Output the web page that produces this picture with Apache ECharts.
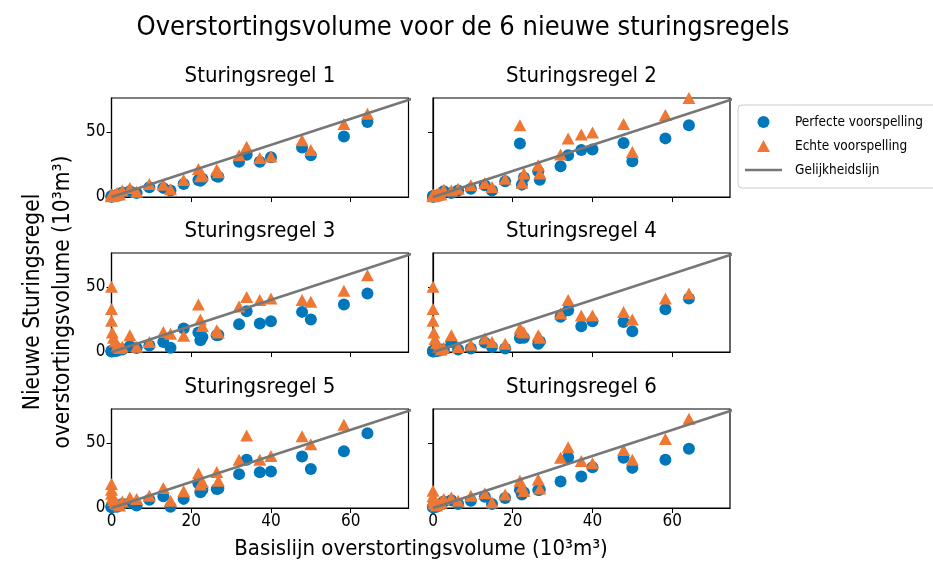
<!DOCTYPE html>
<html>
<head>
<meta charset="utf-8">
<script src="https://cdn.jsdelivr.net/npm/echarts@6/dist/echarts.min.js"></script>
<style>html,body{margin:0;padding:0;background:#fff}#c{width:933px;height:562px}</style>
</head>
<body>
<div id="c"></div>
<script>
// Baseline overflow volume (x), shared by all panels
const BASELINE = [0, 0, 0, 0.2, 0.5, 0.9, 1.4, 2.0, 2.7, 4.6, 6.3, 9.5, 13.0, 14.8, 18.1, 21.8, 22.3, 22.8, 26.4, 26.8, 32.0, 33.9, 37.2, 40.0, 47.8, 50.0, 58.3, 64.2];

// Perfecte voorspelling (blue) per rule
const PERFECT_1 = [0.5, 0.3, 0.2, 1, 0.5, 1, 1.5, 1.5, 3.5, 4.5, 3, 7.5, 7, 5, 10, 13, 12.5, 14, 16, 15.5, 27, 32.5, 27, 30.5, 38, 32, 46.5, 57.5];
const PERFECT_2 = [0.5, 0.3, 0.2, 1, 0.5, 1, 1.5, 1.5, 4.4, 3, 5, 6.4, 9, 5, 12, 41, 9.5, 15, 19.7, 13.3, 23.6, 32, 36, 36.4, 41.5, 27.4, 45, 55];
const PERFECT_3 = [1, 0.5, 0.3, 1, 0.5, 1, 1, 2, 2, 4.4, 3, 5, 7.7, 3.3, 18, 15, 9, 11.5, 12.8, 13, 21.3, 31.3, 21.8, 23.6, 30.8, 24.9, 36.4, 44.9];
const PERFECT_4 = [0.5, 0.3, 1, 1, 0.5, 1, 1, 2, 2, 7.7, 2, 2.6, 7.2, 3.8, 2.6, 10.8, 12, 11, 6.4, 8, 27, 32, 19.7, 23.6, 23, 16, 32.8, 41];
const PERFECT_5 = [1, 0.5, 1, 2, 1, 2, 1, 2, 3, 4, 2, 6.4, 9, 1, 7, 19, 12, 14, 14.6, 15, 26, 37, 27.4, 28, 39.5, 30, 43.6, 57.4];
const PERFECT_6 = [1, 0.5, 1, 1, 1, 1, 2, 3, 5, 6, 3, 5.6, 8.7, 3, 7.7, 14, 10.3, 12, 13.8, 14, 20.3, 39, 24.1, 31.3, 38.5, 30.8, 37, 45.4];

// Echte voorspelling (orange) per rule
const REAL_1 = [2, 1, 0.5, 1.5, 1, 2, 3, 2, 5, 7, 4, 10, 9.5, 6, 13, 21.5, 16, 17, 21, 19, 32, 38.5, 30, 31, 43.5, 36, 56, 64];
const REAL_2 = [1, 0.5, 2, 1.5, 1, 2, 3, 2, 5.6, 5, 6.4, 9, 10.8, 7.7, 14, 55, 11, 18, 24.4, 18, 32.6, 45, 48, 49.5, 56, 34.6, 63, 76];
const REAL_3 = [50, 33, 24, 15, 11, 8, 5, 3, 4, 12.8, 4, 7.7, 15.4, 14, 12.5, 36.4, 25, 20, 16.7, 15, 35, 42.3, 40, 41, 40, 38.5, 47, 59];
const REAL_4 = [50, 33, 24, 15, 10, 7, 4, 2, 3, 12.8, 3.8, 5.6, 10.3, 7.7, 6.4, 18, 16, 15, 12.8, 11, 29.5, 40, 28, 28, 30.8, 25, 41, 45];
const REAL_5 = [18.5, 14, 11, 8, 6, 4, 3, 2, 5, 8, 7, 9.5, 15.4, 5.6, 12.8, 26.7, 18, 20, 27.7, 21, 37, 55.6, 37, 40, 55, 49, 64, 90];
const REAL_6 = [13.3, 9, 6, 4, 3, 2, 3, 4, 7, 8, 5.6, 9.5, 11.3, 4.4, 10.3, 21, 16.4, 13, 21.8, 15, 38.5, 46.7, 36, 34.4, 44.6, 37, 53, 68.5];

const PERFECT = [PERFECT_1, PERFECT_2, PERFECT_3, PERFECT_4, PERFECT_5, PERFECT_6];
const REAL = [REAL_1, REAL_2, REAL_3, REAL_4, REAL_5, REAL_6];

const PANEL_TITLES = ['Sturingsregel 1', 'Sturingsregel 2', 'Sturingsregel 3', 'Sturingsregel 4', 'Sturingsregel 5', 'Sturingsregel 6'];
const SERIES_NAMES = ['Perfecte voorspelling', 'Echte voorspelling', 'Gelijkheidslijn'];
const X_TICKS = [0, 20, 40, 60];
const Y_TICKS = [0, 50];
const AXIS_MAX_X = 74.5;
const AXIS_MAX_Y = 76;
const EQUALITY_LINE = [0, 100];

const BLUE = '#0077BB', ORANGE = '#EE7733', GREY = '#777777';
const FONT = 'DejaVu Sans Condensed';
const F = (px) => px + 'px "' + FONT + '", "DejaVu Sans", sans-serif';

const colLeft = [111.5, 433];
const rowTop = [98, 253, 409];
const gw = 297, gh = 99;

const grids = [], xAxes = [], yAxes = [], series = [], graphics = [];
for (let i = 0; i < 6; i++) {
  const r = Math.floor(i / 2), c = i % 2;
  grids.push({left: colLeft[c], top: rowTop[r], width: gw, height: gh, show: true,
    borderColor: '#000', borderWidth: 1.2, backgroundColor: '#fff', containLabel: false});
  xAxes.push({type: 'value', gridIndex: i, min: 0, max: AXIS_MAX_X, interval: 20,
    axisLine: {show: true, onZero: false, lineStyle: {color: '#000', width: 1.2}},
    axisTick: {show: true, length: 5, lineStyle: {color: '#000', width: 1}, customValues: X_TICKS},
    axisLabel: {show: r === 2, customValues: X_TICKS, color: '#000', fontSize: 17, fontFamily: FONT, margin: 5},
    splitLine: {show: false}});
  yAxes.push({type: 'value', gridIndex: i, min: 0, max: AXIS_MAX_Y, interval: 50,
    axisLine: {show: true, onZero: false, lineStyle: {color: '#000', width: 1.2}},
    axisTick: {show: true, length: 5, lineStyle: {color: '#000', width: 1}, customValues: Y_TICKS},
    axisLabel: {show: c === 0, customValues: Y_TICKS, color: '#000', fontSize: 17, fontFamily: FONT, margin: 6},
    splitLine: {show: false}});
  series.push({name: SERIES_NAMES[0], type: 'scatter', xAxisIndex: i, yAxisIndex: i,
    symbol: 'circle', symbolSize: 12, itemStyle: {color: BLUE, opacity: 1}, z: 2,
    data: BASELINE.map((x, k) => [x, PERFECT[i][k]]), clip: true});
  series.push({name: SERIES_NAMES[1], type: 'scatter', xAxisIndex: i, yAxisIndex: i,
    symbol: 'triangle', symbolSize: [13, 12], itemStyle: {color: ORANGE, opacity: 1}, z: 3,
    data: BASELINE.map((x, k) => [x, REAL[i][k]]), clip: true});
  series.push({name: SERIES_NAMES[2], type: 'line', xAxisIndex: i, yAxisIndex: i,
    symbol: 'none', showSymbol: false, lineStyle: {color: GREY, width: 2.6}, itemStyle: {color: GREY}, z: 4,
    data: EQUALITY_LINE.map(v => [v, v]), clip: true, silent: true});
  graphics.push({type: 'text', x: colLeft[c] + gw / 2, y: rowTop[r] - 22,
    style: {text: PANEL_TITLES[i], font: F(22), fill: '#000', textAlign: 'center', textVerticalAlign: 'middle'}});
}

graphics.push({type: 'text', x: 463, y: 28,
  style: {text: 'Overstortingsvolume voor de 6 nieuwe sturingsregels', font: F(27), fill: '#000', textAlign: 'center', textVerticalAlign: 'middle'}});
graphics.push({type: 'text', x: 421, y: 549,
  style: {text: 'Basislijn overstortingsvolume (10³m³)', font: F(22), fill: '#000', textAlign: 'center', textVerticalAlign: 'middle'}});
graphics.push({type: 'text', x: 48, y: 302, rotation: Math.PI / 2,
  style: {text: 'Nieuwe Sturingsregel\noverstortingsvolume (10³m³)', font: F(22.5), lineHeight: 30, fill: '#000', textAlign: 'center', textVerticalAlign: 'middle'}});

const chart = echarts.init(document.getElementById('c'), null, {renderer: 'canvas'});
chart.setOption({
  animation: false,
  backgroundColor: '#fff',
  grid: grids, xAxis: xAxes, yAxis: yAxes, series: series,
  legend: {
    orient: 'vertical', left: 738, top: 105,
    symbolKeepAspect: true,
    data: [
      {name: SERIES_NAMES[0], icon: 'circle'},
      {name: SERIES_NAMES[1], icon: 'path://M6.5,0 L13,12 L0,12 Z'},
      {name: SERIES_NAMES[2], icon: 'path://M0,0 L37,0 L37,2.6 L0,2.6 Z'}
    ],
    itemWidth: 37, itemHeight: 12, itemGap: 10,
    padding: [10, 40, 11, 7],
    backgroundColor: '#fff', borderColor: '#cccccc', borderWidth: 1, borderRadius: 4,
    textStyle: {fontSize: 13.5, fontFamily: FONT, color: '#000', padding: [0, 0, 0, 8]},
    selectedMode: false
  },
  graphic: graphics
});
</script>
</body>
</html>
